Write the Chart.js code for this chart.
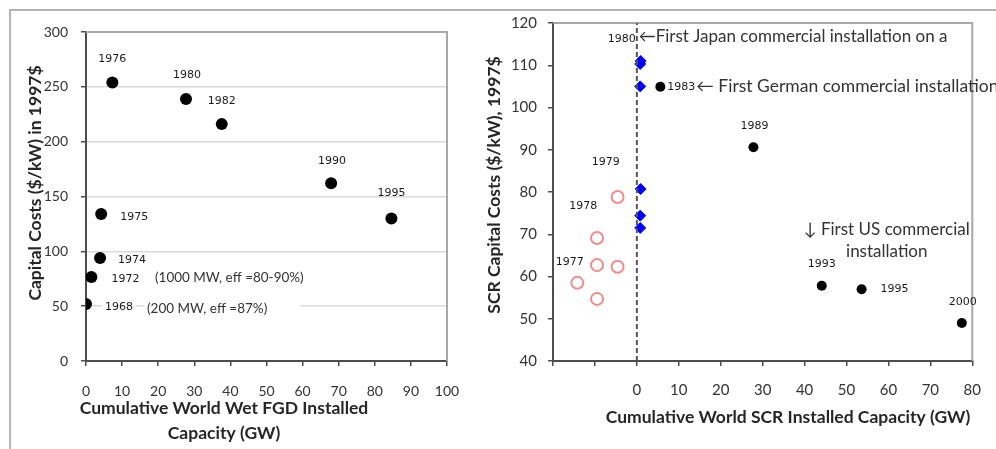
<!DOCTYPE html>
<html lang="en">
<head>
<meta charset="utf-8">
<title>Capital costs FGD / SCR</title>
<script src="https://cdn.jsdelivr.net/npm/chart.js"></script>
<style>
    html, body { margin: 0; padding: 0; background: #fff; }
    #wrap { position: relative; width: 996px; height: 449px; overflow: hidden; }
    #rahmen { position: absolute; left: 9px; top: 9px; width: 1000px; height: 460px;
              border-top: 2px solid #b4b4b4; border-left: 2px solid #b4b4b4; }
    #fgdChart { position: absolute; left: 0; top: 0; }
    #scrChart { position: absolute; left: 480px; top: 0; }
</style>
</head>
<body>
<div id="wrap">
    <div id="rahmen"></div>
    <canvas id="fgdChart" width="490" height="449"></canvas>
    <canvas id="scrChart" width="516" height="449"></canvas>
</div>
<script>
// daten linkes diagramm (wet FGD)
const fgdYears    = ['1968', '1972', '1974', '1975', '1976', '1980', '1982', '1990', '1995'];
const fgdCapacity = [0, 1.5, 3.9, 4.2, 7.3, 27.7, 37.6, 67.9, 84.6];
const fgdCost     = [52, 76.5, 94, 134, 254, 239, 216, 162, 130];
const fgdXTicks   = [0, 10, 20, 30, 40, 50, 60, 70, 80, 90, 100];
const fgdYTicks   = [0, 50, 100, 150, 200, 250, 300];

// daten rechtes diagramm (SCR)
const scrYears     = ['1983', '1989', '1993', '1995', '2000'];
const scrCapacity  = [5.6, 27.8, 44.1, 53.6, 77.5];
const scrCost      = [104.9, 90.6, 57.8, 57.0, 49.0];
const japanCapacity = [0.9, 0.8, 0.8, 0.9, 0.8, 0.8];
const japanCost     = [111.0, 110.3, 105.0, 80.7, 74.4, 71.5];
const earlyCapacity = [-4.6, -9.5, -9.5, -4.6, -14.2, -9.5];
const earlyCost     = [78.8, 69.1, 62.7, 62.3, 58.5, 54.7];
const earlyYears    = ['1979', '1978', '1977'];
const scrRefLineX   = 0;
const scrXTicks     = [-20, -10, 0, 10, 20, 30, 40, 50, 60, 70, 80];
const scrYTicks     = [40, 50, 60, 70, 80, 90, 100, 110, 120];

// layout der beschriftungen (pixel-versatz zum punkt)
const fgdLabelOffsets = [[33, 3], [34, 2], [32, 2], [33, 3], [0, -23], [1, -24], [0, -23], [1, -22], [0, -25]];
const scrLabelOffsets = [[7, 0], [1, -21], [0, -22], [33, 0], [1, -21]];
const earlyLabelPos   = [[-7.4, 87.1], [-12.8, 76.7], [-16.0, 63.4]];

const yearFont  = '11px "DejaVu Sans"';
const titleFont = 'bold 17.5px Lato';

function points(xs, ys) {
    return xs.map(function(x, i) { return { x: x, y: ys[i] }; });
}

// feste ticks aus den arrays
function fixTicks(arr) {
    return function(scale) {
        scale.ticks = arr.map(function(v) { return { value: v }; });
    };
}

// obere und rechte kante der zeichenflaeche
const plotRahmen = {
    id: 'plotRahmen',
    beforeDatasetsDraw(chart) {
        const a = chart.chartArea;
        const ctx = chart.ctx;
        ctx.save();
        ctx.strokeStyle = '#a8a8a8';
        ctx.lineWidth = 2;
        ctx.beginPath();
        ctx.moveTo(a.left, a.top);
        ctx.lineTo(a.right, a.top);
        ctx.lineTo(a.right, a.bottom);
        ctx.stroke();
        ctx.restore();
    }
};

// texte: achsentitel (feste pixel) und beschriftungen (datenkoordinaten + versatz)
function textPlugin(items) {
    return {
        id: 'texte',
        afterDatasetsDraw(chart) {
            const ctx = chart.ctx;
            const xs = chart.scales.x;
            const ys = chart.scales.y;
            items.forEach(function(it) {
                let px, py;
                if (it.px !== undefined) {
                    px = it.px; py = it.py;
                } else {
                    px = xs.getPixelForValue(it.x) + (it.dx || 0);
                    py = ys.getPixelForValue(it.y) + (it.dy || 0);
                }
                ctx.save();
                ctx.font = it.font;
                ctx.fillStyle = it.color || '#1a1a1a';
                ctx.textAlign = it.align || 'center';
                ctx.textBaseline = 'middle';
                ctx.translate(px, py);
                if (it.rotate) ctx.rotate(-Math.PI / 2);
                const lines = [].concat(it.text);
                const lh = it.lineHeight || 0;
                lines.forEach(function(line, i) {
                    if (it.bg) {
                        const w = ctx.measureText(line).width;
                        let x0 = 0;
                        if (ctx.textAlign === 'center') x0 = -w / 2;
                        if (ctx.textAlign === 'right') x0 = -w;
                        ctx.save();
                        ctx.fillStyle = '#fff';
                        ctx.fillRect(x0 - 3, i * lh - 8, w + it.bg, 16);
                        ctx.restore();
                    }
                    ctx.fillText(line, 0, i * lh);
                });
                ctx.restore();
            });
        }
    };
}

function axisOptions(min, max, ticks, fontSize, pad, gridOn, callback) {
    return {
        type: 'linear',
        min: min,
        max: max,
        afterBuildTicks: fixTicks(ticks),
        ticks: {
            font: { family: 'Lato', size: fontSize },
            color: '#333',
            padding: pad,
            callback: callback || function(v) { return v; }
        },
        grid: {
            drawOnChartArea: gridOn,
            color: '#d9d9d9',
            lineWidth: 1.5,
            tickColor: '#4d4d4d',
            tickLength: 5,
            tickWidth: 1.5
        },
        border: { color: '#4d4d4d', width: 2 }
    };
}

// linkes diagramm
function fgdChart() {
    const items = [];
    fgdYears.forEach(function(year, i) {
        items.push({ text: year, x: fgdCapacity[i], y: fgdCost[i],
            dx: fgdLabelOffsets[i][0], dy: fgdLabelOffsets[i][1], font: yearFont, bg: i === 0 ? 6 : 0 });
    });
    items.push({ text: '(1000 MW, eff =80-90%)', x: 19.1, y: 75.7, align: 'left', font: '13.5px Lato', color: '#333' });
    items.push({ text: '(200 MW, eff =87%)', x: 16.9, y: 47.4, align: 'left', font: '13.5px Lato', color: '#333', bg: 36 });
    items.push({ text: 'Capital Costs ($/kW) in 1997$', px: 35, py: 183, rotate: true, font: titleFont, color: '#262626' });
    items.push({ text: ['Cumulative World Wet FGD Installed', 'Capacity (GW)'], px: 224, py: 408, lineHeight: 25,
        font: titleFont, color: '#262626' });

    const x = axisOptions(0, 100, fgdXTicks, 14, 17, false);
    x.afterFit = function(s) { s.height = 88; };
    const y = axisOptions(0, 300, fgdYTicks, 14, 13, true);
    y.afterFit = function(s) { s.width = 86; };

    new Chart(document.getElementById('fgdChart'), {
        type: 'scatter',
        data: {
            datasets: [{
                data: points(fgdCapacity, fgdCost),
                pointRadius: 6,
                pointBackgroundColor: '#000',
                pointBorderWidth: 0
            }]
        },
        options: {
            responsive: false,
            animation: false,
            devicePixelRatio: 1,
            layout: { padding: { top: 32, right: 43, left: 0, bottom: 0 } },
            plugins: { legend: { display: false }, tooltip: { enabled: false } },
            scales: { x: x, y: y }
        },
        plugins: [plotRahmen, textPlugin(items)]
    });
}

// rechtes diagramm
function scrChart() {
    const items = [];
    scrYears.forEach(function(year, i) {
        items.push({ text: year, x: scrCapacity[i], y: scrCost[i],
            dx: scrLabelOffsets[i][0], dy: scrLabelOffsets[i][1], font: yearFont, align: i === 0 ? 'left' : 'center' });
    });
    earlyYears.forEach(function(year, i) {
        items.push({ text: year, x: earlyLabelPos[i][0], y: earlyLabelPos[i][1], font: yearFont });
    });
    items.push({ text: '\u2190 First German commercial installation', x: scrCapacity[0], y: scrCost[0],
        dx: 36, dy: 0, align: 'left', font: '17.5px Lato', color: '#333' });
    items.push({ text: '1980', x: japanCapacity[0], y: japanCost[0], dx: -5, dy: -22, align: 'right', font: yearFont });
    items.push({ text: '\u2190First Japan commercial installation on a', x: japanCapacity[0], y: japanCost[0],
        dx: -2, dy: -25, align: 'left', font: '17px Lato', color: '#333' });
    items.push({ text: ['\u2193 First US commercial', 'installation'], x: 59.6, y: 71.2, lineHeight: 22,
        font: '17px Lato', color: '#333' });
    items.push({ text: 'SCR Capital Costs ($/kW), 1997$', px: 14, py: 185, rotate: true, font: titleFont, color: '#262626' });
    items.push({ text: 'Cumulative World SCR Installed Capacity (GW)', px: 308, py: 417, font: titleFont, color: '#262626' });

    const x = axisOptions(-20, 80, scrXTicks, 15, 15, false, function(v) { return v < 0 ? '' : v; });
    x.afterFit = function(s) { s.height = 88; };
    const y = axisOptions(40, 120, scrYTicks, 15, 11, false);
    y.afterFit = function(s) { s.width = 73; };

    new Chart(document.getElementById('scrChart'), {
        type: 'scatter',
        data: {
            datasets: [{
                type: 'line',
                data: [{ x: scrRefLineX, y: 40 }, { x: scrRefLineX, y: 120 }],
                borderColor: '#555',
                borderWidth: 2,
                borderDash: [5, 3],
                pointRadius: 0,
                showLine: true
            }, {
                data: points(earlyCapacity, earlyCost),
                pointRadius: 6,
                pointBackgroundColor: '#fff',
                pointBorderColor: '#f28b8b',
                pointBorderWidth: 2
            }, {
                data: points(japanCapacity, japanCost),
                pointStyle: 'rectRot',
                pointRadius: 5.5,
                pointBackgroundColor: '#0000ff',
                pointBorderColor: '#0000ff',
                pointBorderWidth: 1
            }, {
                data: points(scrCapacity, scrCost),
                pointRadius: 5,
                pointBackgroundColor: '#000',
                pointBorderWidth: 0
            }]
        },
        options: {
            responsive: false,
            animation: false,
            devicePixelRatio: 1,
            layout: { padding: { top: 23, right: 13, left: 0, bottom: 0 } },
            plugins: { legend: { display: false }, tooltip: { enabled: false } },
            scales: { x: x, y: y }
        },
        plugins: [plotRahmen, textPlugin(items)]
    });
}

fgdChart();
scrChart();
</script>
</body>
</html>
